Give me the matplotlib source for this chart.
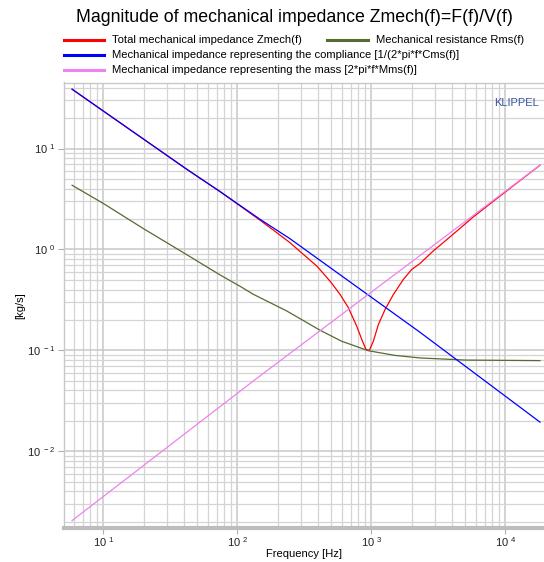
import matplotlib
matplotlib.use('Agg')
import matplotlib.pyplot as plt
from matplotlib.lines import Line2D
from matplotlib.ticker import LogLocator, FuncFormatter, NullFormatter
import numpy as np

plt.rcParams['font.family'] = ['Liberation Sans', 'DejaVu Sans']
plt.rcParams['mathtext.fontset'] = 'custom'
plt.rcParams['mathtext.rm'] = 'Liberation Sans'

# values (frequency in Hz, impedance in kg/s)
f_comp = [5.83, 10, 41.9, 74.3, 147.5, 247, 2306, 18150]
z_comp = [38.8, 23.5, 6.23, 3.74, 1.99, 1.277, 0.151, 0.0194]

f_mass = [5.83, 135.5, 2306, 18150]
z_mass = [0.00205, 0.0512, 0.87, 6.85]

f_rms = [5.83, 10, 20, 40, 74, 105, 131, 234, 414, 600, 950, 1500, 2306, 5000, 18150]
z_rms = [4.33, 2.85, 1.60, 0.92, 0.56, 0.43, 0.36, 0.245, 0.158, 0.123, 0.099, 0.089,
         0.084, 0.080, 0.079]

f_tot = [5.83, 10, 41.9, 74.3, 147.5, 191, 247, 311, 392, 492, 585, 674, 778, 848,
         913, 966, 1035, 1128, 1266, 1459, 1733, 2000, 2306, 2906, 3260, 4090,
         5770, 8130, 12000, 18150]
z_tot = [38.8, 23.5, 6.23, 3.74, 1.95, 1.51, 1.166, 0.892, 0.683, 0.484, 0.357, 0.264,
         0.173, 0.128, 0.1016, 0.100, 0.123, 0.180, 0.254, 0.357, 0.504, 0.633, 0.725,
         0.97, 1.10, 1.42, 2.10, 3.00, 4.48, 6.83]

labels = ['Total mechanical impedance Zmech(f)',
          'Mechanical resistance Rms(f)',
          'Mechanical impedance representing the compliance [1/(2*pi*f*Cms(f)]',
          'Mechanical impedance representing the mass [2*pi*f*Mms(f)]']
colors = ['#ff0000', '#556b2f', '#0000ff', '#ee82ee']

W, H = 544, 562
fig = plt.figure(figsize=(W / 100, H / 100), dpi=100)
ax = fig.add_axes([63.5 / W, 1 - 528 / H, 1 - 63.5 / W, (528 - 82.5) / H])

ax.plot(f_tot, z_tot, color=colors[0], lw=0.9)
ax.plot(f_rms, z_rms, color=colors[1], lw=0.9)
ax.plot(f_comp, z_comp, color=colors[2], lw=0.9)
ax.plot(f_mass, z_mass, color=colors[3], lw=0.9)

ax.set_xscale('log')
ax.set_yscale('log')
ax.set_xlim(5.03, 19450)
ax.set_ylim(0.00173, 45.2)

for a in (ax.xaxis, ax.yaxis):
    a.set_major_locator(LogLocator(base=10, numticks=20))
    a.set_minor_locator(LogLocator(base=10, subs=np.arange(2, 10), numticks=20))
    a.set_minor_formatter(NullFormatter())
    a.set_major_formatter(FuncFormatter(
        lambda v, p: r'$\mathregular{10^{\ %d}}$' % int(round(np.log10(v)))))

ax.grid(True, which='major', color='#c8c8c8', lw=1.1)
ax.grid(True, which='minor', color='#d4d4d4', lw=0.9)
ax.set_axisbelow(True)
ax.tick_params(which='both', length=0, labelsize=8, colors='#222222')
ax.tick_params(axis='y', which='major', length=4, color='#b0b0b0', pad=2)
ax.tick_params(axis='x', which='major', length=4, color='#b0b0b0', pad=1)

for s in ['top', 'left', 'right']:
    ax.spines[s].set_color('#c8c8c8')
    ax.spines[s].set_linewidth(1)
ax.spines['right'].set_visible(False)
ax.spines['bottom'].set_color('#bdbdbd')
ax.spines['bottom'].set_linewidth(3)

ax.set_xlabel('Frequency [Hz]', fontsize=8, labelpad=0)
ax.set_ylabel('[kg/s]', fontsize=8, labelpad=1)

ax.text(0.99, 0.955, 'KLIPPEL', transform=ax.transAxes, ha='right', va='center',
        fontsize=8, color='#3a55a0')

fig.text(294 / W, 1 - 17 / H, 'Magnitude of mechanical impedance Zmech(f)=F(f)/V(f)',
         ha='center', va='center', fontsize=12.8)

# legend drawn by hand: first row has two entries, the rest one each
rows = [(63.5, 40, 0), (327, 40, 1), (63.5, 54.7, 2), (63.5, 70, 3)]
for x0, y0, i in rows:
    fig.add_artist(Line2D([x0 / W, (x0 + 40.5) / W], [1 - y0 / H, 1 - y0 / H],
                          color=colors[i], lw=2.2, transform=fig.transFigure))
    fig.text((x0 + 48.5) / W, 1 - y0 / H, labels[i], ha='left', va='center', fontsize=8.1)

fig.savefig('out.png', dpi=100)
